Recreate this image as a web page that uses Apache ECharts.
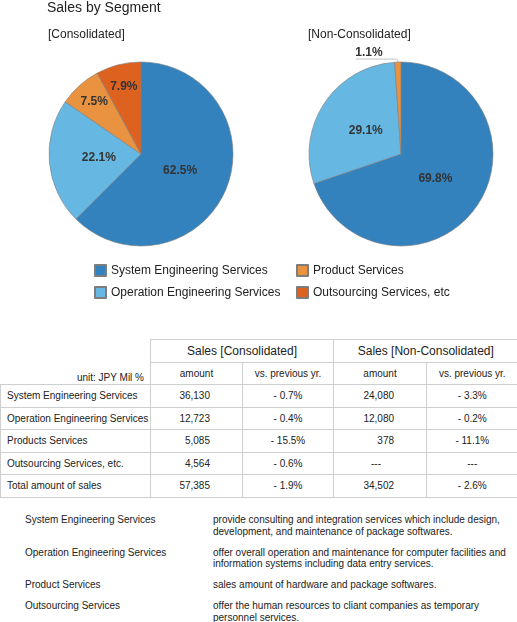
<!DOCTYPE html>
<html>
<head>
<meta charset="utf-8">
<script src="https://cdn.jsdelivr.net/npm/echarts@6/dist/echarts.min.js"></script>
<style>
  html, body { margin: 0; padding: 0; background: #fff; }
  body { width: 517px; height: 622px; position: relative; overflow: hidden;
         font-family: Arial, "Liberation Sans", Helvetica, sans-serif; color: #222; }
  #chart { position: absolute; left: 0; top: 0; width: 517px; height: 330px; }
  #tbl { position: absolute; left: 0; top: 339px; width: 517px; border-collapse: collapse; table-layout: fixed; }
  #tbl td, #tbl th { border: 1px solid #cfcfcf; padding: 0; font-weight: normal; white-space: nowrap; }
  #tbl th.grp { height: 22px; font-size: 12px; text-align: center; }
  #tbl th.sub { height: 21px; font-size: 10px; text-align: center; }
  #tbl th.unit { border-top: none; border-left: none; text-align: right; vertical-align: bottom;
                 font-size: 10px; padding: 0 6px 1px 0; }
  #tbl td { height: 21.5px; font-size: 10px; }
  #tbl td.name { text-align: left; padding-left: 6px; }
  #tbl td.amt { text-align: right; padding-right: 32px; }
  #tbl td.chg { text-align: center; }
  #tbl td.na { text-align: center; padding-right: 8px; }
  #desc { position: absolute; left: 25px; top: 514px; width: 492px; font-size: 10px; line-height: 11.5px; }
  #desc .row { display: flex; margin-bottom: 9.5px; white-space: nowrap; }
  #desc .k { width: 188px; flex: none; }
  #desc .v { flex: none; }
</style>
</head>
<body>
<div id="chart"></div>
<table id="tbl"></table>
<div id="desc"></div>
<script>
// ---------------- data ----------------
const segments = ['System Engineering Services', 'Operation Engineering Services', 'Product Services', 'Outsourcing Services, etc'];
const consolidatedShare = [62.5, 22.1, 7.5, 7.9];
const nonConsolidatedShare = [69.8, 29.1, 1.1, null];   // no outsourcing segment

const tableRows = ['System Engineering Services', 'Operation Engineering Services', 'Products Services', 'Outsourcing Services, etc.', 'Total amount of sales'];
const consAmount = ['36,130', '12,723', '5,085', '4,564', '57,385'];
const consChange = ['- 0.7%', '- 0.4%', '- 15.5%', '- 0.6%', '- 1.9%'];
const nonAmount = ['24,080', '12,080', '378', '---', '34,502'];
const nonChange = ['- 3.3%', '- 0.2%', '- 11.1%', '---', '- 2.6%'];

const descTerms = ['System Engineering Services', 'Operation Engineering Services', 'Product Services', 'Outsourcing Services'];
const descTexts = [
  ['provide consulting and integration services which include design,', 'development, and maintenance of package softwares.'],
  ['offer overall operation and maintenance for computer facilities and', 'information systems including data entry services.'],
  ['sales amount of hardware and package softwares.'],
  ['offer the human resources to cliant companies as temporary', 'personnel services.']
];

// ---------------- styles ----------------
const segColors = ['#3382be', '#66b8e2', '#e9923f', '#dd6220'];
const PIE_R = 92;
const centers = [[141, 154], [401, 154]];

function buildData(shares) {
  const out = [];
  shares.forEach(function (v, i) {
    if (v == null) return;
    const item = { name: segments[i], value: v, itemStyle: { color: segColors[i] } };
    if (v < 3) {
      // small slice: label sits above a leader line
      item.label = {
        position: 'outside',
        lineHeight: 13,
        formatter: function (p) { return p.value.toFixed(1) + '%\n '; },
        distanceToLabelLine: -27
      };
      item.labelLine = { show: true, length: 3, length2: 42, smooth: 0.3,
                         lineStyle: { color: '#b0b0b0', width: 0.8 } };
    }
    out.push(item);
  });
  return out;
}

function makeLayout(seriesIdx, shares) {
  const vals = shares.filter(function (v) { return v != null; });
  const c = centers[seriesIdx];
  return function (p) {
    const v = vals[p.dataIndex];
    if (v < 3) return {};
    const r = p.labelRect;
    const lx = r.x + r.width / 2, ly = r.y + r.height / 2;
    const dx = lx - c[0], dy = ly - c[1];
    const len = Math.sqrt(dx * dx + dy * dy) || 1;
    const target = (v < 10 ? 0.76 : 0.46) * PIE_R;
    return { x: c[0] + dx / len * target, y: c[1] + dy / len * target, align: 'center', verticalAlign: 'middle' };
  };
}

function pieSeries(idx, shares) {
  return {
    type: 'pie',
    center: centers[idx],
    radius: [0, PIE_R],
    startAngle: 90,
    clockwise: true,
    avoidLabelOverlap: false,
    animation: false,
    emphasis: { scale: false },
    itemStyle: { borderColor: '#7d7d7d', borderWidth: 0.6 },
    label: {
      show: true,
      position: 'inside',
      formatter: function (p) { return p.value.toFixed(1) + '%'; },
      fontSize: 12,
      fontWeight: 'bold',
      color: '#333',
      fontFamily: 'Arial, "Liberation Sans", sans-serif'
    },
    labelLine: { show: false },
    labelLayout: makeLayout(idx, shares),
    data: buildData(shares)
  };
}

const chart = echarts.init(document.getElementById('chart'), null, { renderer: 'canvas' });
const legendText = { fontSize: 12, color: '#222', fontFamily: 'Arial, "Liberation Sans", sans-serif' };
chart.setOption({
  animation: false,
  textStyle: { fontFamily: 'Arial, "Liberation Sans", sans-serif' },
  title: [
    { text: 'Sales by Segment', left: 47, top: 1, padding: 0,
      textStyle: { fontSize: 14, fontWeight: 'normal', color: '#222' } },
    { text: '[Consolidated]', left: 48, top: 29, padding: 0,
      textStyle: { fontSize: 12, fontWeight: 'normal', color: '#222' } },
    { text: '[Non-Consolidated]', left: 308, top: 29, padding: 0,
      textStyle: { fontSize: 12, fontWeight: 'normal', color: '#222' } }
  ],
  legend: [
    { orient: 'vertical', left: 94, top: 264, padding: 0, itemWidth: 11, itemHeight: 11, itemGap: 9,
      icon: 'rect', textStyle: legendText, selectedMode: false, data: [segments[0], segments[1]] },
    { orient: 'vertical', left: 296, top: 264, padding: 0, itemWidth: 11, itemHeight: 11, itemGap: 9,
      icon: 'rect', textStyle: legendText, selectedMode: false, data: [segments[2], segments[3]] }
  ],
  series: [pieSeries(0, consolidatedShare), pieSeries(1, nonConsolidatedShare)]
});

// ---------------- table ----------------
(function () {
  const t = document.getElementById('tbl');
  let h = '<colgroup><col style="width:150px"><col style="width:92px"><col style="width:91px"><col style="width:93px"><col style="width:91px"></colgroup>';
  h += '<tr><th class="unit" rowspan="2">unit: JPY Mil %</th>' +
       '<th class="grp" colspan="2">Sales [Consolidated]</th>' +
       '<th class="grp" colspan="2" style="border-right:none">Sales [Non-Consolidated]</th></tr>';
  h += '<tr><th class="sub">amount</th><th class="sub">vs. previous yr.</th>' +
       '<th class="sub">amount</th><th class="sub" style="border-right:none">vs. previous yr.</th></tr>';
  tableRows.forEach(function (name, i) {
    h += '<tr><td class="name">' + name + '</td>' +
         '<td class="amt">' + consAmount[i] + '</td>' +
         '<td class="chg">' + consChange[i] + '</td>' +
         '<td class="' + (nonAmount[i] === '---' ? 'na' : 'amt') + '">' + nonAmount[i] + '</td>' +
         '<td class="chg" style="border-right:none">' + nonChange[i] + '</td></tr>';
  });
  t.innerHTML = h;

  const d = document.getElementById('desc');
  let s = '';
  descTerms.forEach(function (term, i) {
    s += '<div class="row"><div class="k">' + term + '</div><div class="v">' + descTexts[i].join('<br>') + '</div></div>';
  });
  d.innerHTML = s;
})();
</script>
</body>
</html>
